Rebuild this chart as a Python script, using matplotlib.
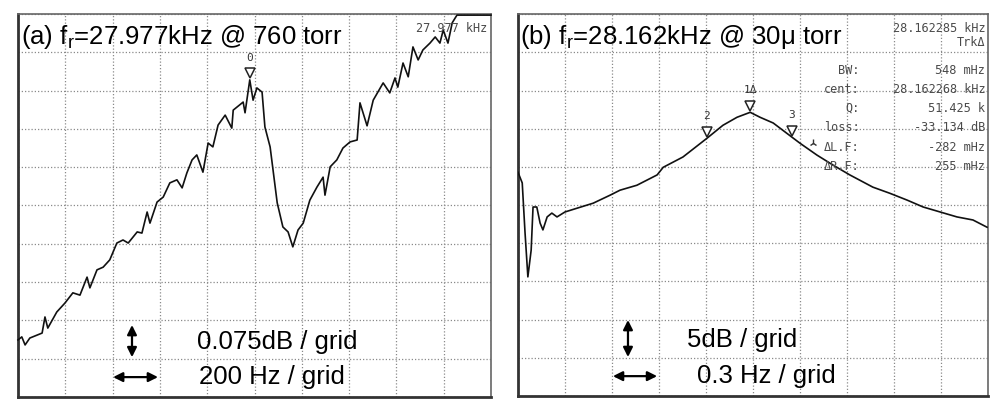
import numpy as np
import matplotlib.pyplot as plt

plt.rcParams['font.family'] = ['Liberation Sans', 'DejaVu Sans']
plt.rcParams['mathtext.fontset'] = 'custom'
plt.rcParams['mathtext.rm'] = 'Liberation Sans'

# values are in screen divisions (10 x 10 grid), read off the analyser screens
# (a) 200 Hz / div, 0.075 dB / div
a_x = [0.00, 0.08, 0.15, 0.25, 0.51, 0.57, 0.63, 0.82, 0.99, 1.16, 1.31, 1.46, 1.52, 1.67,
       1.80, 1.94, 2.09, 2.22, 2.33, 2.52, 2.62, 2.73, 2.79, 2.94, 3.07, 3.21, 3.36, 3.47,
       3.57, 3.68, 3.78, 3.91, 4.02, 4.12, 4.23, 4.38, 4.52, 4.55, 4.76, 4.80, 4.90, 4.97,
       5.05, 5.16, 5.22, 5.33, 5.48, 5.60, 5.71, 5.81, 5.92, 6.03, 6.17, 6.32, 6.45, 6.49,
       6.60, 6.74, 6.87, 7.02, 7.17, 7.23, 7.38, 7.51, 7.72, 7.86, 7.97, 8.03, 8.14, 8.25,
       8.35, 8.46, 8.56, 8.71, 8.82, 8.92, 8.99, 9.09, 9.18, 9.28, 9.39, 9.60, 10.00]
a_y = [1.49, 1.57, 1.36, 1.54, 1.67, 2.09, 1.80, 2.22, 2.45, 2.72, 2.66, 3.13, 2.85, 3.32,
       3.39, 3.58, 4.02, 4.10, 4.02, 4.31, 4.28, 4.83, 4.54, 5.09, 5.22, 5.59, 5.67, 5.46,
       5.85, 6.19, 6.32, 5.87, 6.63, 6.53, 7.10, 7.36, 7.02, 7.49, 7.70, 7.42, 8.28, 7.75,
       8.07, 7.96, 7.05, 6.53, 5.07, 4.44, 4.31, 3.92, 4.36, 4.54, 5.14, 5.48, 5.74, 5.27,
       6.01, 6.19, 6.50, 6.66, 6.71, 7.68, 7.08, 7.75, 8.20, 7.94, 8.33, 8.09, 8.72, 8.36,
       9.14, 8.80, 9.06, 9.24, 9.40, 9.24, 9.58, 9.24, 9.77, 9.97, 10.20, 10.40, 10.60]
a_markers = [("0", 4.90)]

# (b) 0.3 Hz / div, 5 dB / div
b_x = [0.00, 0.09, 0.15, 0.21, 0.28, 0.32, 0.40, 0.47, 0.53, 0.62, 0.72, 0.83, 1.00, 1.26,
       1.60, 1.96, 2.17, 2.53, 2.96, 3.09, 3.51, 4.02, 4.36, 4.66, 4.94, 5.15, 5.43, 5.72,
       6.00, 6.36, 6.70, 7.06, 7.55, 7.91, 8.28, 8.62, 8.98, 9.34, 9.68, 9.98]
b_y = [5.86, 5.58, 4.27, 3.12, 3.82, 4.95, 4.95, 4.53, 4.35, 4.69, 4.79, 4.69, 4.82, 4.92,
       5.05, 5.26, 5.39, 5.52, 5.79, 5.99, 6.26, 6.75, 7.09, 7.30, 7.43, 7.30, 7.15, 6.88,
       6.62, 6.31, 6.05, 5.79, 5.47, 5.31, 5.13, 4.95, 4.82, 4.69, 4.61, 4.42]
b_markers = [("2", 4.02), ("1\u0394", 4.94), ("3", 5.83)]

b_labels = ["", "", "BW:", "cent:", "Q:", "loss:", "\u0394L.F:", "\u0394R.F:"]
b_values = ["28.162285 kHz", "Trk\u0394", "548 mHz", "28.162268 kHz", "51.425 k",
            "-33.134 dB", "-282 mHz", "255 mHz"]
b_rows = [9.63, 9.27, 8.53, 8.04, 7.54, 7.02, 6.52, 6.02]

fig = plt.figure(figsize=(10, 4.11), dpi=100)
ax_a = fig.add_axes([0.018, 0.034, 0.473, 0.932])
ax_b = fig.add_axes([0.518, 0.0365, 0.470, 0.929])

mono = dict(fontsize=8.6, family='DejaVu Sans Mono', color='#4a4a4a', va='center')


def screen(ax):
    ax.set_xlim(0, 10)
    ax.set_ylim(0, 10)
    ax.set_xticks(range(11))
    ax.set_yticks(range(11))
    ax.tick_params(length=0, labelbottom=False, labelleft=False)
    ax.grid(True, color='#8a8a8a', linestyle=(0, (1, 1.6)), linewidth=0.9)
    for s in ['left', 'bottom']:
        ax.spines[s].set_linewidth(2.0)
        ax.spines[s].set_color('#333333')
    for s in ['top', 'right']:
        ax.spines[s].set_linewidth(1.2)
        ax.spines[s].set_color('#666666')


def markers(ax, xs, ys, marks):
    for lab, mx in marks:
        my = np.interp(mx, xs, ys)
        ax.plot(mx, my + 0.17, marker='v', ms=7.5, mfc='white', mec='#222222', mew=1.1, zorder=4)
        ax.text(mx, my + 0.45, lab, ha='center', va='bottom', fontsize=8,
                family='DejaVu Sans Mono', color='#333333')


def scale_note(ax, vx, vy0, vy1, hx0, hx1, hy, t1, t1x, t1y, t2, t2x, t2y):
    arrow = dict(arrowstyle='<|-|>', color='black', lw=1.6, mutation_scale=14,
                 shrinkA=0, shrinkB=0)
    ax.annotate('', xy=(vx, vy0), xytext=(vx, vy1), arrowprops=arrow)
    ax.annotate('', xy=(hx0, hy), xytext=(hx1, hy), arrowprops=arrow)
    ax.text(t1x, t1y, t1, fontsize=18.5, va='center', ha='left')
    ax.text(t2x, t2y, t2, fontsize=18.5, va='center', ha='left')


# panel (a)
screen(ax_a)
ax_a.plot(a_x, np.minimum(a_y, 9.97), color='#111111', lw=1.2, zorder=3, clip_on=False)
markers(ax_a, a_x, a_y, a_markers)
ax_a.text(0.06, 9.40, "(a) f$_{\\mathrm{r}}$=27.977kHz @ 760 torr", fontsize=18.5,
          va='center', ha='left')
ax_a.text(9.92, 9.63, "27.977 kHz", ha='right', **mono)
scale_note(ax_a, 2.41, 1.04, 1.88, 2.01, 2.96, 0.52,
           "0.075dB / grid", 3.78, 1.44, "200 Hz / grid", 3.83, 0.52)

# panel (b)
screen(ax_b)
ax_b.plot(b_x, b_y, color='#111111', lw=1.2, zorder=3)
markers(ax_b, b_x, b_y, b_markers)
ax_b.plot(6.28, np.interp(6.28, b_x, b_y) + 0.25, marker='2', ms=6, color='#333333')
ax_b.text(0.04, 9.40, "(b) f$_{\\mathrm{r}}$=28.162kHz @ 30\u03bc torr", fontsize=18.5,
          va='center', ha='left')
for lab, val, ry in zip(b_labels, b_values, b_rows):
    if lab:
        ax_b.text(7.26, ry, lab, ha='right', **mono)
    ax_b.text(9.94, ry, val, ha='right', **mono)
scale_note(ax_b, 2.34, 1.02, 1.99, 2.02, 2.96, 0.52,
           "5dB / grid", 3.60, 1.47, "0.3 Hz / grid", 3.81, 0.52)

fig.savefig('out.png', dpi=100)
